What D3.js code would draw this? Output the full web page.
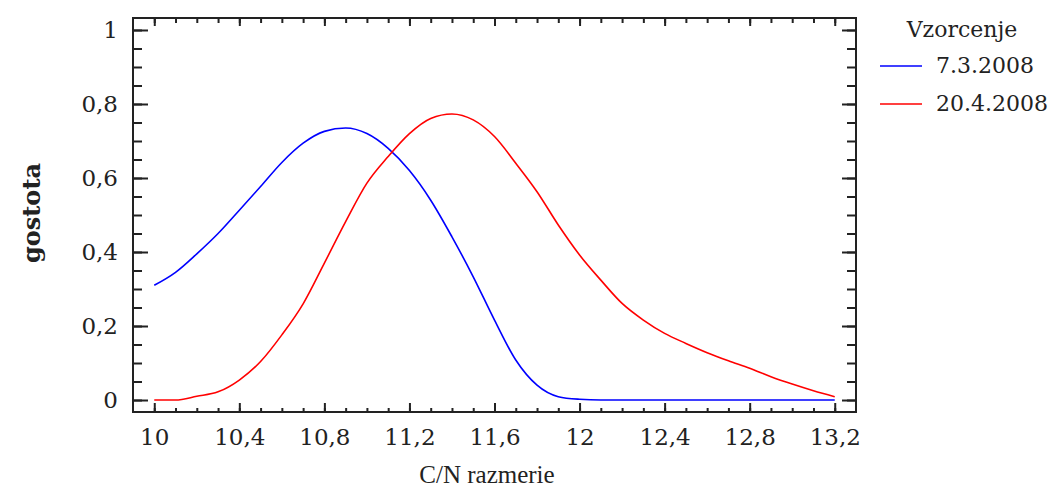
<!DOCTYPE html>
<html>
<head>
<meta charset="utf-8">
<script src="https://cdn.jsdelivr.net/npm/d3@7"></script>
<style>
body{margin:0;background:#fff;}
svg{display:block;}
.tick text{font-family:'DejaVu Serif',serif;font-size:23px;fill:#222;}
.tick line{stroke:#222;stroke-width:2;}
</style>
</head>
<body>
<script>
const width=1048;
const height=490;

// C/N razmerje values (x)
const cnValues=[10.0,10.1,10.2,10.3,10.4,10.5,10.6,10.7,10.8,10.9,11.0,11.1,11.2,11.3,11.4,11.5,11.6,11.7,11.8,11.9,
                12.0,12.1,12.2,12.3,12.4,12.5,12.6,12.7,12.8,12.9,13.0,13.1,13.2];
// density, 7.3.2008
const density1=[0.31,0.345,0.395,0.45,0.513,0.577,0.642,0.694,0.726,0.735,0.72,0.68,0.62,0.54,0.441,0.333,0.216,0.108,0.04,0.009,
                0.002,0,0,0,0,0,0,0,0,0,0,0,0];
// density, 20.4.2008
const density2=[0,0,0.01,0.022,0.054,0.104,0.176,0.26,0.37,0.482,0.586,0.658,0.72,0.761,0.773,0.757,0.712,0.64,0.563,0.473,
                0.392,0.324,0.261,0.216,0.18,0.153,0.128,0.106,0.086,0.063,0.043,0.025,0.009];
const seriesNames=['7.3.2008','20.4.2008'];
const seriesColors=['#0000ff','#ff0000'];

const xMajor=[10,10.4,10.8,11.2,11.6,12,12.4,12.8,13.2];
const xMinor=[10,10.1,10.2,10.3,10.4,10.5,10.6,10.7,10.8,10.9,11,11.1,11.2,11.3,11.4,11.5,11.6,11.7,11.8,11.9,
              12,12.1,12.2,12.3,12.4,12.5,12.6,12.7,12.8,12.9,13,13.1,13.2];
const yMajor=[0,0.2,0.4,0.6,0.8,1];
const yMinor=[0,0.05,0.1,0.15,0.2,0.25,0.3,0.35,0.4,0.45,0.5,0.55,0.6,0.65,0.7,0.75,0.8,0.85,0.9,0.95,1];

const plot={left:133,right:856,top:18,bottom:412};

const svg=d3.select('body').append('svg').attr('width',width).attr('height',height);

const x=d3.scaleLinear().domain([9.9,13.3]).range([plot.left,plot.right]);
const y=d3.scaleLinear().domain([-0.0324,1.0324]).range([plot.bottom,plot.top]);

const fmt=d=>String(+d.toFixed(1)).replace('.',',');

function addAxis(axis,tx,ty){
    const g=svg.append('g').attr('transform',`translate(${tx},${ty})`).call(axis);
    g.select('.domain').remove();
    return g;
}

// bottom
addAxis(d3.axisBottom(x).tickValues(xMinor).tickSize(-4).tickFormat(''),0,plot.bottom);
addAxis(d3.axisBottom(x).tickValues(xMajor).tickSize(-9).tickPadding(17).tickFormat(fmt),0,plot.bottom);
// top
addAxis(d3.axisTop(x).tickValues(xMinor).tickSize(-5).tickFormat(''),0,plot.top);
addAxis(d3.axisTop(x).tickValues(xMajor).tickSize(-8).tickFormat(''),0,plot.top);
// left
addAxis(d3.axisLeft(y).tickValues(yMinor).tickSize(-9).tickFormat(''),plot.left,0);
addAxis(d3.axisLeft(y).tickValues(yMajor).tickSize(-15).tickPadding(15).tickFormat(fmt),plot.left,0);
// right
addAxis(d3.axisRight(y).tickValues(yMinor).tickSize(-9).tickFormat(''),plot.right,0);
addAxis(d3.axisRight(y).tickValues(yMajor).tickSize(-14).tickFormat(''),plot.right,0);

svg.append('rect')
    .attr('x',plot.left).attr('y',plot.top)
    .attr('width',plot.right-plot.left).attr('height',plot.bottom-plot.top)
    .attr('fill','none').attr('stroke','#222').attr('stroke-width',2);

const line=d3.line().x(d=>x(d[0])).y(d=>y(d[1])).curve(d3.curveMonotoneX);

[density1,density2].forEach((vals,i)=>{
    svg.append('path')
        .datum(cnValues.map((c,j)=>[c,vals[j]]))
        .attr('d',line)
        .attr('fill','none')
        .attr('stroke',seriesColors[i])
        .attr('stroke-width',1.6);
});

// axis titles
svg.append('text').text('gostota')
    .attr('transform','translate(40,213) rotate(-90)')
    .attr('text-anchor','middle')
    .style('font-family',"'DejaVu Serif',serif")
    .style('font-weight','bold')
    .style('font-size','24px')
    .attr('fill','#222');

svg.append('text').text('C/N razmerie')
    .attr('x',487).attr('y',483)
    .attr('text-anchor','middle')
    .style('font-family',"'Liberation Serif',serif")
    .style('font-size','25px')
    .attr('fill','#222');

// legend
svg.append('text').text('Vzorcenje')
    .attr('x',962).attr('y',37)
    .attr('text-anchor','middle')
    .style('font-family',"'DejaVu Serif',serif")
    .style('font-size','22px')
    .attr('fill','#222');

const legendY=[66,104];
seriesNames.forEach((name,i)=>{
    svg.append('line')
        .attr('x1',880).attr('x2',922)
        .attr('y1',legendY[i]).attr('y2',legendY[i])
        .attr('stroke',seriesColors[i]).attr('stroke-width',1.6);
    svg.append('text').text(name)
        .attr('x',936).attr('y',legendY[i]+7)
        .style('font-family',"'DejaVu Serif',serif")
        .style('font-size','22px')
        .attr('fill','#222');
});
</script>
</body>
</html>
